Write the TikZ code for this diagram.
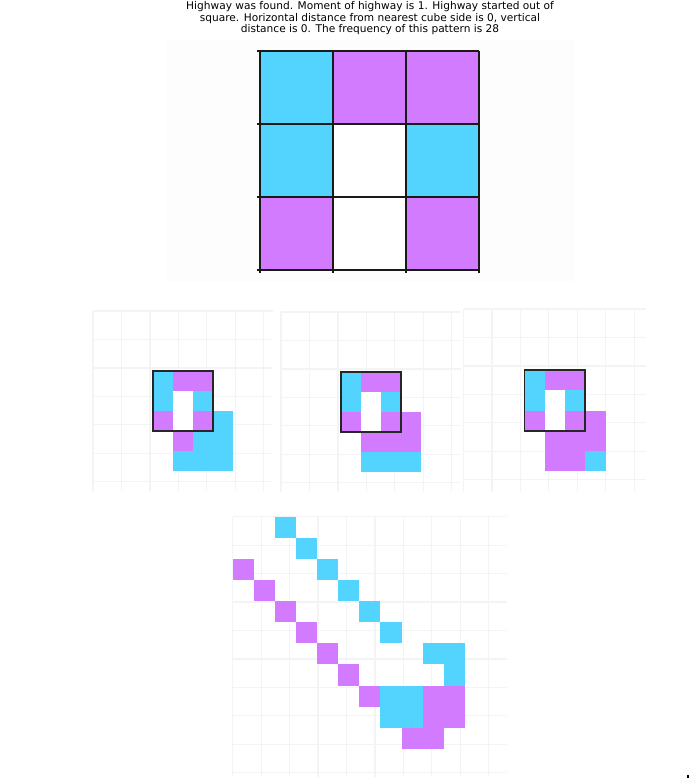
\documentclass[tikz,border=0pt]{standalone}
\usepackage{fontspec}
\setmainfont{DejaVu Sans}
\definecolor{cy}{RGB}{82,212,255}
\definecolor{mg}{RGB}{210,123,255}
\definecolor{fgrid}{RGB}{244,244,246}
\newcommand\cel[3]{\fill[#3] (#1,#2) rectangle ++(1,1);}
\tikzset{
  faint/.style={draw=fgrid, line width=1.2pt},
  frame/.style={draw=black!85, line width=1.8pt},
  bigline/.style={draw=black!90, line width=1.2pt},
}
\begin{document}
\begin{tikzpicture}[x=1pt,y=-1pt]
\useasboundingbox (0,0) rectangle (690,779);
\fill[white] (0,0) rectangle (690,779);
% title
\node[anchor=north, align=center, inner sep=0, font=\fontsize{10.6}{11.6}\selectfont] (title) at (370,1.3)
 {Highway was found. Moment of highway is 1. Highway started out of\\
  square. Horizontal distance from nearest cube side is 0, vertical\\
  distance is 0. The frequency of this pattern is 28};
% top panel
\fill[black!0.8] (166,40) rectangle (575,282);
\begin{scope}[shift={(260,51)}, x=73pt, y=-73pt]
  \cel{0}{0}{cy}\cel{1}{0}{mg}\cel{2}{0}{mg}
  \cel{0}{1}{cy}\cel{1}{1}{white}\cel{2}{1}{cy}
  \cel{0}{2}{mg}\cel{1}{2}{white}\cel{2}{2}{mg}
  \foreach \i in {0,1,2,3} {
    \draw[bigline] (-0.04,\i) -- (3,\i);
    \draw[bigline] (\i,0) -- (\i,3.04);
  }
\end{scope}
% middle panel 1
\begin{scope}[shift={(93,311)}, x=20pt, y=-20pt]
  \draw[faint] (0,0) grid (9,9);
  \cel{3}{3}{cy}\cel{4}{3}{mg}\cel{5}{3}{mg}
  \cel{3}{4}{cy}\cel{4}{4}{white}\cel{5}{4}{cy}
  \cel{3}{5}{mg}\cel{4}{5}{white}\cel{5}{5}{mg}\cel{6}{5}{cy}
  \cel{4}{6}{mg}\cel{5}{6}{cy}\cel{6}{6}{cy}
  \cel{4}{7}{cy}\cel{5}{7}{cy}\cel{6}{7}{cy}
  \draw[frame] (3,3) rectangle (6,6);
\end{scope}
% middle panel 2
\begin{scope}[shift={(281,312)}, x=20pt, y=-20pt]
  \draw[faint] (0,0) grid (9,9);
  \cel{3}{3}{cy}\cel{4}{3}{mg}\cel{5}{3}{mg}
  \cel{3}{4}{cy}\cel{4}{4}{white}\cel{5}{4}{cy}
  \cel{3}{5}{mg}\cel{4}{5}{white}\cel{5}{5}{mg}\cel{6}{5}{mg}
  \cel{4}{6}{mg}\cel{5}{6}{mg}\cel{6}{6}{mg}
  \cel{4}{7}{cy}\cel{5}{7}{cy}\cel{6}{7}{cy}
  \draw[frame] (3,3) rectangle (6,6);
\end{scope}
% middle panel 3
\begin{scope}[shift={(463.5,309)}, x=20.3pt, y=-20.3pt]
  \draw[faint] (0,0) grid (9,9);
  \cel{3}{3}{cy}\cel{4}{3}{mg}\cel{5}{3}{mg}
  \cel{3}{4}{cy}\cel{4}{4}{white}\cel{5}{4}{cy}
  \cel{3}{5}{mg}\cel{4}{5}{white}\cel{5}{5}{mg}\cel{6}{5}{mg}
  \cel{4}{6}{mg}\cel{5}{6}{mg}\cel{6}{6}{mg}
  \cel{4}{7}{mg}\cel{5}{7}{mg}\cel{6}{7}{cy}
  \draw[frame] (3,3) rectangle (6,6);
\end{scope}
% bottom panel
\begin{scope}[shift={(232.7,516.7)}, x=21.1pt, y=-21.1pt]
  \clip (-0.1,-0.1) rectangle (13.1,12.3);
  \draw[faint] (0,0) grid (13,13);
  \foreach \k in {0,...,5} { \cel{2+\k}{\k}{cy} }
  \foreach \k in {0,...,6} { \cel{\k}{2+\k}{mg} }
  \cel{9}{6}{cy}\cel{10}{6}{cy}\cel{10}{7}{cy}
  \cel{7}{8}{cy}\cel{8}{8}{cy}\cel{9}{8}{mg}\cel{10}{8}{mg}
  \cel{7}{9}{cy}\cel{8}{9}{cy}\cel{9}{9}{mg}\cel{10}{9}{mg}
  \cel{8}{10}{mg}\cel{9}{10}{mg}
\end{scope}
\fill[black] (687,775) rectangle (689,778);
\end{tikzpicture}
\end{document}
